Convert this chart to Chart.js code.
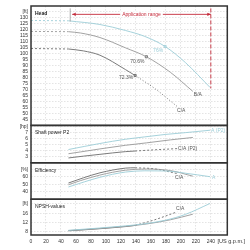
<!DOCTYPE html>
<html>
<head>
<meta charset="utf-8">
<script src="https://cdn.jsdelivr.net/npm/chart.js@4.4.0/dist/chart.umd.min.js"></script>
<style>
  html, body { margin: 0; padding: 0; background: #fff; }
  #wrap { width: 250px; height: 250px; position: relative; }
</style>
</head>
<body>
<div id="wrap"><canvas id="pump"></canvas></div>
<script>
// ticks
const flowTicks = [0, 20, 40, 60, 80, 100, 120, 140, 160, 180, 200, 220, 240];
const headTicks = [45, 50, 55, 60, 65, 70, 75, 80, 85, 90, 95, 100, 105, 110, 115, 120, 125, 130, 135];
const powerTicks = [3, 4, 5, 6, 7, 8];
const effTicks = [40, 50, 60, 70];
const npshTicks = [8, 12, 16, 20];
const panelTitles = ['Head', 'Shaft power P2', 'Efficiency', 'NPSH-values'];

// head curves (ft) over flow (US g.p.m.)
const qShutoff = [0, 50];
const headShutA = [127.9, 127.6];
const headShutB = [118.7, 118.5];
const headShutC = [104.4, 104.0];

const qA = [50, 92, 126, 152, 179, 206, 239];
const headA = [127.6, 124.5, 119.5, 114.5, 106.1, 92.7, 71.8];
const qB = [50, 66, 92, 126, 154, 186, 216];
const headB = [118.5, 117.4, 113.6, 105.0, 97.5, 84.5, 68.5];
const qC = [50, 70, 92, 126, 139];
const headC = [104.0, 102.4, 98.8, 86.8, 81.8];
const qCx = [139, 165, 195];
const headCx = [81.8, 71.0, 55.9];

// best efficiency points
const bepQ = [179, 154, 139];
const bepHead = [106.1, 97.5, 81.8];
const bepText = ['76%', '70.6%', '72.3%'];

// shaft power (hp)
const powerA = [4.2, 5.2, 5.9, 6.3, 6.7, 7.0, 7.4];
const powerB = [3.5, 3.8, 4.3, 4.9, 5.3, 5.8, 6.2];
const powerC = [2.8, 3.1, 3.4, 3.85, 3.95];
const powerCx = [3.95, 4.15, 4.35];

// efficiency (%)
const effA = [46.5, 59.5, 66.5, 68.2, 68.0, 65.0, 60.3];
const effB = [49.5, 55.0, 62.5, 69.0, 70.6, 68.5, 61.0];
const effC = [51.8, 58.8, 65.5, 71.8, 72.3];
const effCx = [72.3, 70.8, 64.5];

// NPSH (ft)
const npshA = [8.7, 9.7, 10.6, 11.5, 13.0, 15.5, 20.2];
const npshB = [8.6, 8.9, 9.5, 10.4, 11.4, 13.2, 15.6];
const npshC = [8.5, 8.9, 9.4, 10.3, 10.8];
const npshCx = [10.8, 13.2, 16.6];

// application range
const rangeFrom = 55;
const rangeTo = 240;

const teal = '#9ccdd7';
const greyB = '#979797';
const greyC = '#6c6c6c';
const red = '#c42a3a';
const font = '"Liberation Sans", Arial, sans-serif';

function pts(qs, vs) {
    return qs.map((q, i) => ({x: q, y: vs[i]}));
}

function line(qs, vs, axis, color, dash) {
    return {
        data: pts(qs, vs),
        yAxisID: axis,
        borderColor: color,
        borderWidth: 0.9,
        borderDash: dash || [],
        pointRadius: 0,
        fill: false,
        cubicInterpolationMode: 'monotone'
    };
}

function yAxis(min, max, ticks, unit, weight, stackWeight) {
    return {
        type: 'linear',
        position: 'left',
        stack: 'pump',
        stackWeight: stackWeight,
        weight: weight,
        min: min,
        max: max,
        afterBuildTicks: s => { s.ticks = ticks.map(v => ({value: v})); },
        afterFit: s => { s.width = 31; },
        grid: {color: '#d8d8d8', lineWidth: 0.7, drawTicks: false},
        border: {display: false, dash: [1.5, 1.5]},
        ticks: {
            autoSkip: false,
            padding: 3,
            color: '#333',
            font: {size: 5, family: font},
            callback: v => v === ticks[ticks.length - 1] ? unit : v
        }
    };
}

const decor = {
    id: 'decor',
    afterDatasetsDraw(chart) {
        const {ctx, chartArea: a, scales: s} = chart;
        const x = s.x, yH = s.yHead;
        ctx.save();

        // application range
        const yr = yH.getPixelForValue(133);
        const x1 = x.getPixelForValue(rangeFrom), x2 = x.getPixelForValue(rangeTo);
        ctx.strokeStyle = '#999';
        ctx.lineWidth = 0.8;
        ctx.beginPath();
        ctx.moveTo(x1 - 2, yH.getPixelForValue(138));
        ctx.lineTo(x1 - 2, yH.getPixelForValue(127));
        ctx.stroke();
        ctx.strokeStyle = red;
        ctx.fillStyle = red;
        ctx.lineWidth = 0.9;
        ctx.beginPath();
        ctx.moveTo(x1, yr);
        ctx.lineTo(x2, yr);
        ctx.stroke();
        ctx.beginPath();
        ctx.moveTo(x1, yr); ctx.lineTo(x1 + 3.5, yr - 1.6); ctx.lineTo(x1 + 3.5, yr + 1.6); ctx.closePath();
        ctx.moveTo(x2, yr); ctx.lineTo(x2 - 3.5, yr - 1.6); ctx.lineTo(x2 - 3.5, yr + 1.6); ctx.closePath();
        ctx.fill();
        ctx.setLineDash([4, 2]);
        ctx.beginPath();
        ctx.moveTo(x2, yH.getPixelForValue(138));
        ctx.lineTo(x2, yH.getPixelForValue(71));
        ctx.stroke();
        ctx.setLineDash([]);
        ctx.font = '5px ' + font;
        ctx.textBaseline = 'middle';
        ctx.textAlign = 'center';
        const tx = x.getPixelForValue((rangeFrom + rangeTo) / 2);
        const tw = ctx.measureText('Application range').width;
        ctx.fillStyle = '#fff';
        ctx.fillRect(tx - tw / 2 - 2, yr - 3, tw + 4, 6);
        ctx.fillStyle = red;
        ctx.fillText('Application range', tx, yr);

        // curve labels
        function label(axis, q, v, text, color, align, dx, dy) {
            ctx.fillStyle = color;
            ctx.textAlign = align;
            ctx.fillText(text, x.getPixelForValue(q) + dx, s[axis].getPixelForValue(v) + dy);
        }
        const bepColors = [teal, '#555', '#555'];
        bepQ.forEach((q, i) => label('yHead', q, bepHead[i], bepText[i], bepColors[i], 'right', -2, [4, 5, 2][i]));
        label('yHead', qB[qB.length - 1], headB[headB.length - 1], 'B/A', '#555', 'left', 1, 3);
        label('yHead', qCx[qCx.length - 1], headCx[headCx.length - 1], 'C/A', '#555', 'left', 0, 4);
        label('yPower', qA[qA.length - 1], powerA[powerA.length - 1], 'A (P2)', teal, 'left', 1, 0);
        label('yPower', qCx[qCx.length - 1], powerCx[powerCx.length - 1], 'C/A (P2)', '#555', 'left', 1, 0);
        label('yEff', qCx[qCx.length - 1], effCx[effCx.length - 1], 'C/A', '#555', 'left', -2, 4);
        label('yEff', qA[qA.length - 1], effA[effA.length - 1], 'A', teal, 'left', 2, 0.5);
        label('yNpsh', qCx[qCx.length - 1], npshCx[npshCx.length - 1], 'C/A', '#555', 'left', -1, -3);

        // panel frames and titles
        ['yHead', 'yPower', 'yEff', 'yNpsh'].forEach((id, i) => {
            const sc = s[id];
            ctx.strokeStyle = '#333';
            ctx.lineWidth = 1.5;
            ctx.strokeRect(a.left, sc.top, a.right - a.left, sc.bottom - sc.top);
            ctx.fillStyle = '#222';
            ctx.textAlign = 'left';
            ctx.font = (i === 0 ? 'bold ' : '') + '5px ' + font;
            ctx.fillText(panelTitles[i], a.left + 4, sc.top + 7.7);
        });

        // flow unit
        ctx.font = '5.5px ' + font;
        ctx.fillStyle = '#333';
        ctx.textAlign = 'left';
        ctx.fillText('[US g.p.m.]', x.getPixelForValue(249), a.bottom + 6.5);
        ctx.restore();
    }
};

const pump = new Chart(
    document.getElementById('pump'),
    {
    type: 'line',
    data: {
        datasets: [
            line(qShutoff, headShutA, 'yHead', teal, [2, 2]),
            line(qShutoff, headShutB, 'yHead', greyB, [2, 2]),
            line(qShutoff, headShutC, 'yHead', greyC, [2, 2]),
            line(qA, headA, 'yHead', teal),
            line(qB, headB, 'yHead', greyB),
            line(qC, headC, 'yHead', greyC),
            line(qCx, headCx, 'yHead', greyC, [1, 2]),
            {
                type: 'scatter',
                data: pts(bepQ, bepHead),
                yAxisID: 'yHead',
                pointStyle: 'rect',
                pointRadius: 1.5,
                pointBorderWidth: 0.8,
                pointBorderColor: [teal, '#555', '#555'],
                pointBackgroundColor: '#fff'
            },
            line(qA, powerA, 'yPower', teal),
            line(qB, powerB, 'yPower', greyB),
            line(qC, powerC, 'yPower', greyC),
            line(qCx, powerCx, 'yPower', greyC, [2, 2]),
            line(qA, effA, 'yEff', teal),
            line(qB, effB, 'yEff', greyB),
            line(qC, effC, 'yEff', greyC),
            line(qCx, effCx, 'yEff', greyC, [2, 2]),
            line(qA, npshA, 'yNpsh', teal),
            line(qB, npshB, 'yNpsh', greyB),
            line(qC, npshC, 'yNpsh', greyC),
            line(qCx, npshCx, 'yNpsh', greyC, [2, 2])
        ]
    },
    options: {
        responsive: true,
        maintainAspectRatio: false,
        animation: false,
        layout: {padding: {top: 4.5, right: 22.7, bottom: 0, left: 0}},
        plugins: {legend: {display: false}, tooltip: {enabled: false}},
        scales: {
            x: {
                type: 'linear',
                min: 0,
                max: 262,
                afterBuildTicks: s => { s.ticks = flowTicks.map(v => ({value: v})); },
                afterFit: s => { s.height = 15; },
                grid: {color: '#d8d8d8', lineWidth: 0.7, drawTicks: false},
                border: {display: false, dash: [1.5, 1.5]},
                ticks: {autoSkip: false, maxRotation: 0, padding: 3.5, color: '#333', font: {size: 5, family: font}}
            },
            yNpsh: yAxis(6.7, 22, npshTicks, '[ft]', 1, 36),
            yEff: yAxis(30, 79, effTicks, '[%]', 2, 36.7),
            yPower: yAxis(2, 8.2, powerTicks, '[hp]', 3, 37.6),
            yHead: yAxis(40, 140, headTicks, '[ft]', 4, 120.2)
        }
    },
    plugins: [decor]
    }
);
</script>
</body>
</html>
